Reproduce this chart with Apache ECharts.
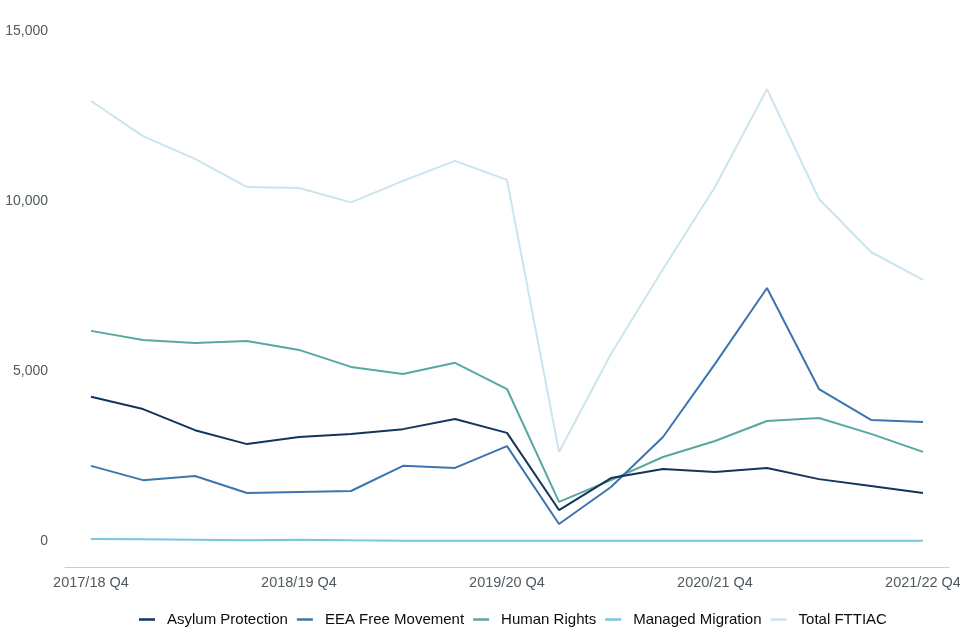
<!DOCTYPE html>
<html>
<head>
<meta charset="utf-8">
<title>FTTIAC appeals by category</title>
<script src="https://cdn.jsdelivr.net/npm/echarts@6/dist/echarts.min.js"></script>
<style>
  html, body { margin: 0; padding: 0; background: #fff; }
  #chart { width: 960px; height: 640px; }
</style>
</head>
<body>
<div id="chart"></div>
<script>
// quarters, 2017/18 Q4 to 2021/22 Q4
const quarters = [
  '2017/18 Q4', '2018/19 Q1', '2018/19 Q2', '2018/19 Q3',
  '2018/19 Q4', '2019/20 Q1', '2019/20 Q2', '2019/20 Q3',
  '2019/20 Q4', '2020/21 Q1', '2020/21 Q2', '2020/21 Q3',
  '2020/21 Q4', '2021/22 Q1', '2021/22 Q2', '2021/22 Q3',
  '2021/22 Q4'
];

const asylumProtection = [4240, 3880, 3260, 2850, 3060, 3150, 3290, 3590, 3180, 910, 1850, 2120, 2030, 2150, 1820, 1620, 1410];
const eeaFreeMovement = [2210, 1790, 1910, 1410, 1440, 1470, 2210, 2150, 2790, 500, 1590, 3060, 5210, 7440, 4470, 3560, 3500];
const humanRights = [6180, 5910, 5820, 5880, 5620, 5120, 4910, 5240, 4470, 1150, 1790, 2470, 2940, 3530, 3620, 3150, 2620];
const managedMigration = [60, 50, 40, 20, 40, 20, 10, 10, 10, 5, 5, 5, 5, 5, 5, 5, 5];
const totalFttiac = [12940, 11910, 11240, 10410, 10380, 9960, 10590, 11180, 10620, 2620, 5500, 8000, 10410, 13290, 10060, 8500, 7680];

const seriesNames = ['Asylum Protection', 'EEA Free Movement', 'Human Rights', 'Managed Migration', 'Total FTTIAC'];
const seriesData = [asylumProtection, eeaFreeMovement, humanRights, managedMigration, totalFttiac];
const colours = ['#12365a', '#3b75af', '#58a8a0', '#7ac6e2', '#cae5ee'];

const chart = echarts.init(document.getElementById('chart'));

chart.setOption({
  animation: false,
  textStyle: { fontFamily: 'Liberation Sans, Arial, sans-serif' },
  color: colours,
  grid: { left: 65, right: 11, top: 31, bottom: 99, outerBoundsMode: 'none' },
  legend: {
    bottom: 8,
    left: 134,
    icon: 'rect',
    itemWidth: 16,
    itemHeight: 2.5,
    itemGap: 9,
    textStyle: { color: '#0b0c0c', fontSize: 15, padding: [0, 0, 0, 7] },
    data: seriesNames
  },
  xAxis: {
    type: 'category',
    data: quarters,
    boundaryGap: true,
    offset: 26,
    axisLine: { onZero: false, lineStyle: { color: '#cccccc', width: 1 } },
    axisTick: { show: false },
    axisLabel: {
      interval: 3,
      color: '#505a5f',
      fontSize: 14.5,
      margin: 8
    }
  },
  yAxis: {
    type: 'value',
    min: 0,
    max: 15000,
    interval: 5000,
    splitLine: { show: false },
    axisLine: { show: false },
    axisTick: { show: false },
    axisLabel: {
      color: '#505a5f',
      fontSize: 14,
      margin: 17,
      formatter: v => v.toLocaleString('en-GB')
    }
  },
  series: seriesNames.map((name, i) => ({
    name: name,
    type: 'line',
    data: seriesData[i],
    symbol: 'none',
    lineStyle: { width: 2, color: colours[i] },
    z: 10 - i
  }))
});
</script>
</body>
</html>
